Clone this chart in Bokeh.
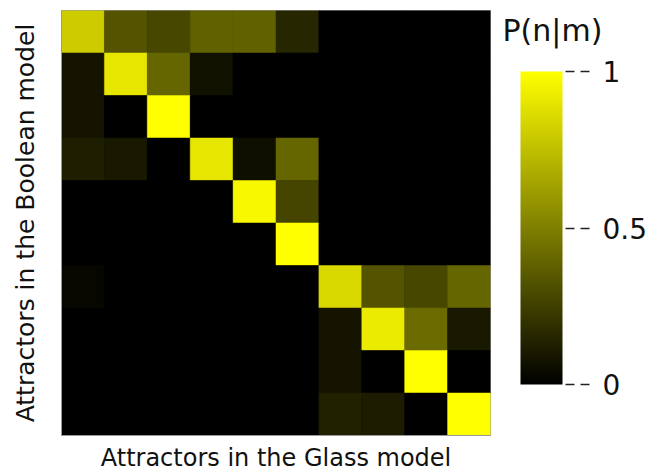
from bokeh.plotting import figure
from bokeh.layouts import row
from bokeh.models import (LinearColorMapper, ColorBar, FixedTicker,
                          ColumnDataSource, Label)
from bokeh.embed import file_html
from bokeh.resources import INLINE

# P(n|m): rows = attractors in the Boolean model (top to bottom),
# columns = attractors in the Glass model (left to right)
glass_attractors = list(range(10))
boolean_attractors = list(range(10))
p_matrix = [
    [0.80, 0.33, 0.28, 0.38, 0.38, 0.15, 0.00, 0.00, 0.00, 0.00],
    [0.08, 0.90, 0.40, 0.07, 0.00, 0.00, 0.00, 0.00, 0.00, 0.00],
    [0.08, 0.00, 1.00, 0.00, 0.00, 0.00, 0.00, 0.00, 0.00, 0.00],
    [0.12, 0.10, 0.00, 0.90, 0.06, 0.40, 0.00, 0.00, 0.00, 0.00],
    [0.00, 0.00, 0.00, 0.00, 0.97, 0.27, 0.00, 0.00, 0.00, 0.00],
    [0.00, 0.00, 0.00, 0.00, 0.00, 1.00, 0.00, 0.00, 0.00, 0.00],
    [0.03, 0.00, 0.00, 0.00, 0.00, 0.00, 0.85, 0.33, 0.28, 0.40],
    [0.00, 0.00, 0.00, 0.00, 0.00, 0.00, 0.08, 0.92, 0.42, 0.10],
    [0.00, 0.00, 0.00, 0.00, 0.00, 0.00, 0.08, 0.00, 1.00, 0.00],
    [0.00, 0.00, 0.00, 0.00, 0.00, 0.00, 0.13, 0.11, 0.00, 1.00],
]
colorbar_ticks = [0, 0.5, 1]
colorbar_title = "P(n|m)"

FONT = "DejaVu Sans"

# black -> yellow palette
palette = ["#%02x%02x00" % (i, i) for i in range(256)]
mapper = LinearColorMapper(palette=palette, low=0, high=1)

n_rows = len(boolean_attractors)
xs, ys, vals = [], [], []
for r in boolean_attractors:
    for c in glass_attractors:
        xs.append(c + 0.5)
        ys.append(n_rows - r - 0.5)
        vals.append(p_matrix[r][c])
src = ColumnDataSource(dict(x=xs, y=ys, v=vals))

H = 474
p = figure(width=492, height=H, x_range=(0, 10), y_range=(0, 10),
           toolbar_location=None, output_backend="svg",
           min_border_left=61, min_border_top=10, min_border_bottom=37,
           min_border_right=2)
p.rect(x="x", y="y", width=1, height=1, source=src,
       fill_color={"field": "v", "transform": mapper},
       line_color={"field": "v", "transform": mapper}, line_width=0.5)

p.background_fill_color = "black"
p.grid.visible = False
p.outline_line_color = "#999999"
for ax in (p.xaxis[0], p.yaxis[0]):
    ax.ticker = FixedTicker(ticks=[])
    ax.major_tick_line_color = None
    ax.minor_tick_line_color = None
    ax.major_label_text_font_size = "0px"
    ax.axis_line_color = "#999999"
    ax.axis_label_text_font = FONT
    ax.axis_label_text_font_style = "normal"
    ax.axis_label_text_color = "#111111"
p.xaxis.axis_label = "Attractors in the Glass model"
p.yaxis.axis_label = "Attractors in the Boolean model"
p.xaxis.axis_label_text_font_size = "24px"
p.yaxis.axis_label_text_font_size = "25px"
p.xaxis.axis_label_standoff = 8
p.yaxis.axis_label_standoff = 22

# colour bar panel
p2 = figure(width=158, height=H, x_range=(0, 1), y_range=(0, 1),
            toolbar_location=None, output_backend="svg",
            min_border=0)
p2.axis.visible = False
p2.grid.visible = False
p2.outline_line_color = None

cb = ColorBar(color_mapper=mapper, width=42, height=313,
              ticker=FixedTicker(ticks=colorbar_ticks),
              major_label_text_font=FONT, major_label_text_font_size="28px",
              major_label_text_color="#111111",
              major_label_text_align="left", major_label_text_baseline="middle",
              major_tick_out=30, major_tick_in=0,
              major_tick_line_color="#222222", major_tick_line_width=1.5,
              major_tick_line_dash="0 3 9 6 9 3",
              minor_tick_line_color=None, bar_line_color=None,
              border_line_color=None, background_fill_color=None,
              label_standoff=10, padding=0, location=(28, 51))
p2.add_layout(cb, "center")
p2.add_layout(Label(x=10, y=405, x_units="screen", y_units="screen",
                    text=colorbar_title, text_font=FONT,
                    text_font_size="30px", text_color="#111111",
                    text_baseline="middle"))

layout = row(p, p2)
open("out.html", "w").write(file_html(layout, INLINE))
